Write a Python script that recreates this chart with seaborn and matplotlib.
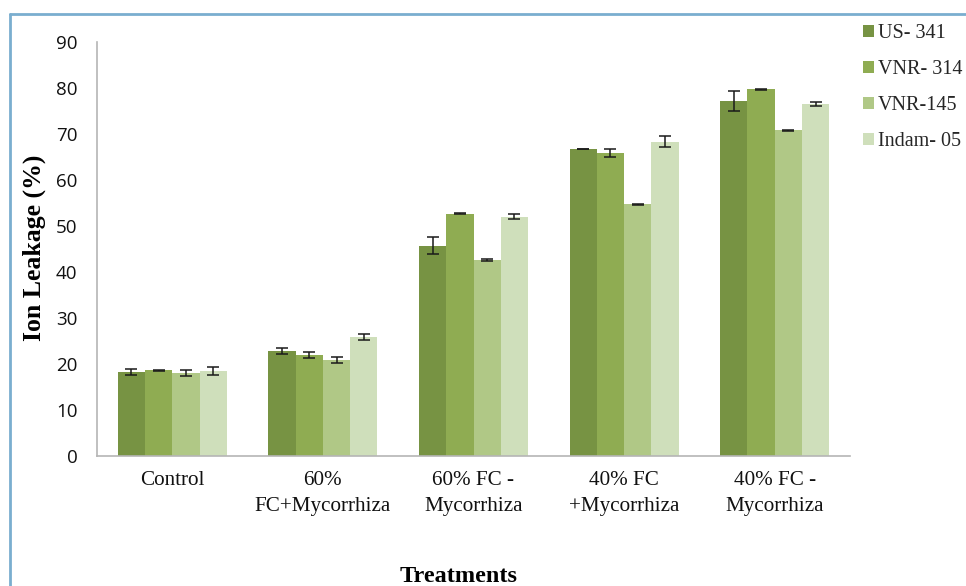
import matplotlib
matplotlib.use("Agg")
import matplotlib.pyplot as plt
from matplotlib.lines import Line2D
import numpy as np
import pandas as pd
import seaborn as sns

# Treatment groups (x categories) and cultivars (hue)
treatments = ["Control", "60%\nFC+Mycorrhiza", "60% FC -\nMycorrhiza",
              "40% FC\n+Mycorrhiza", "40% FC -\nMycorrhiza"]
cultivars = ["US- 341", "VNR- 314", "VNR-145", "Indam- 05"]

# Mean ion leakage (%) per cultivar, in treatment order
us341 = [18.3, 22.8, 45.7, 66.7, 77.2]
vnr314 = [18.6, 22.0, 52.7, 65.9, 79.7]
vnr145 = [18.0, 20.9, 42.6, 54.7, 70.8]
indam05 = [18.5, 25.9, 52.0, 68.3, 76.5]

# Standard errors
us341_err = [0.6, 0.7, 1.8, 0.05, 2.2]
vnr314_err = [0.05, 0.6, 0.05, 0.9, 0.05]
vnr145_err = [0.6, 0.7, 0.3, 0.05, 0.05]
indam05_err = [0.9, 0.7, 0.5, 1.2, 0.4]

means = [us341, vnr314, vnr145, indam05]
errs = [us341_err, vnr314_err, vnr145_err, indam05_err]

colors = ["#779343", "#8fac52", "#b0c886", "#cfdfbb"]

rows = []
for c, m, e in zip(cultivars, means, errs):
    for t, v, s in zip(treatments, m, e):
        rows.append({"Treatment": t, "Cultivar": c, "Leakage": v, "SE": s})
df = pd.DataFrame(rows)

sns.set_theme(style="white")
fig = plt.figure(figsize=(9.66, 5.86), dpi=100)
ax = fig.add_axes([97 / 966, 130 / 586, 753 / 966, 414 / 586])

sns.barplot(data=df, x="Treatment", y="Leakage", hue="Cultivar",
            order=treatments, hue_order=cultivars, palette=colors,
            width=0.725, gap=0, errorbar=None, saturation=1,
            edgecolor="none", linewidth=0, ax=ax)

# Error bars placed on each bar drawn by seaborn
for cont, c in zip(ax.containers, cultivars):
    sub = df[df["Cultivar"] == c].set_index("Treatment").loc[treatments]
    xs = [p.get_x() + p.get_width() / 2 for p in cont.patches]
    hs = [p.get_height() for p in cont.patches]
    ax.errorbar(xs, hs, yerr=sub["SE"].values, fmt="none", ecolor="#1a1a1a",
                elinewidth=1.1, capsize=4, capthick=1.1, zorder=5)

ax.set_ylim(0, 90)
ax.set_xlim(-0.5, 4.5)
ax.set_yticks(np.arange(0, 91, 10))

for s in ["top", "right"]:
    ax.spines[s].set_visible(False)
for s in ["left", "bottom"]:
    ax.spines[s].set_color("#b5b5b5")
    ax.spines[s].set_linewidth(1.2)

ax.tick_params(axis="y", which="major", direction="out", length=5.5,
               width=1.2, color="#b5b5b5", pad=8.5, labelsize=13.5)
ax.tick_params(axis="x", which="major", length=0, pad=11, labelsize=15.2)
ax.set_xticks(np.arange(-0.5, 4.6, 1), minor=True)
ax.tick_params(axis="x", which="minor", direction="out", length=5,
               width=1.2, color="#b5b5b5")

for lab in ax.get_yticklabels():
    lab.set_fontfamily("Open Sans")
    lab.set_color("#111111")
for lab in ax.get_xticklabels():
    lab.set_fontfamily("Liberation Serif")
    lab.set_color("#111111")
    lab.set_linespacing(1.45)

ax.set_xlabel("Treatments", fontfamily="Liberation Serif", fontweight="bold",
              fontsize=17.5, color="black")
ax.xaxis.set_label_coords(0.48, -0.265)
ax.set_ylabel("Ion Leakage (%)", fontfamily="Liberation Serif",
              fontweight="bold", fontsize=18.5, color="black")
ax.yaxis.set_label_coords(-0.068, 0.502)

handles, labels = ax.get_legend_handles_labels()
ax.legend(handles, labels, loc="upper left",
          bbox_to_anchor=(853 / 966, 1 - 14 / 586),
          bbox_transform=fig.transFigure, frameon=False, borderpad=0,
          handlelength=0.55, handleheight=0.55, handletextpad=0.2,
          labelspacing=0.85,
          prop={"family": "Liberation Serif", "size": 14.5})

# Blue frame on the left and top edges
fig.add_artist(Line2D([10 / 966, 10 / 966], [0, 1 - 14 / 586],
                      transform=fig.transFigure, color="#7aaecf", lw=2))
fig.add_artist(Line2D([10 / 966, 1], [1 - 14 / 586, 1 - 14 / 586],
                      transform=fig.transFigure, color="#7aaecf", lw=2))

fig.savefig("out.png", dpi=100)
